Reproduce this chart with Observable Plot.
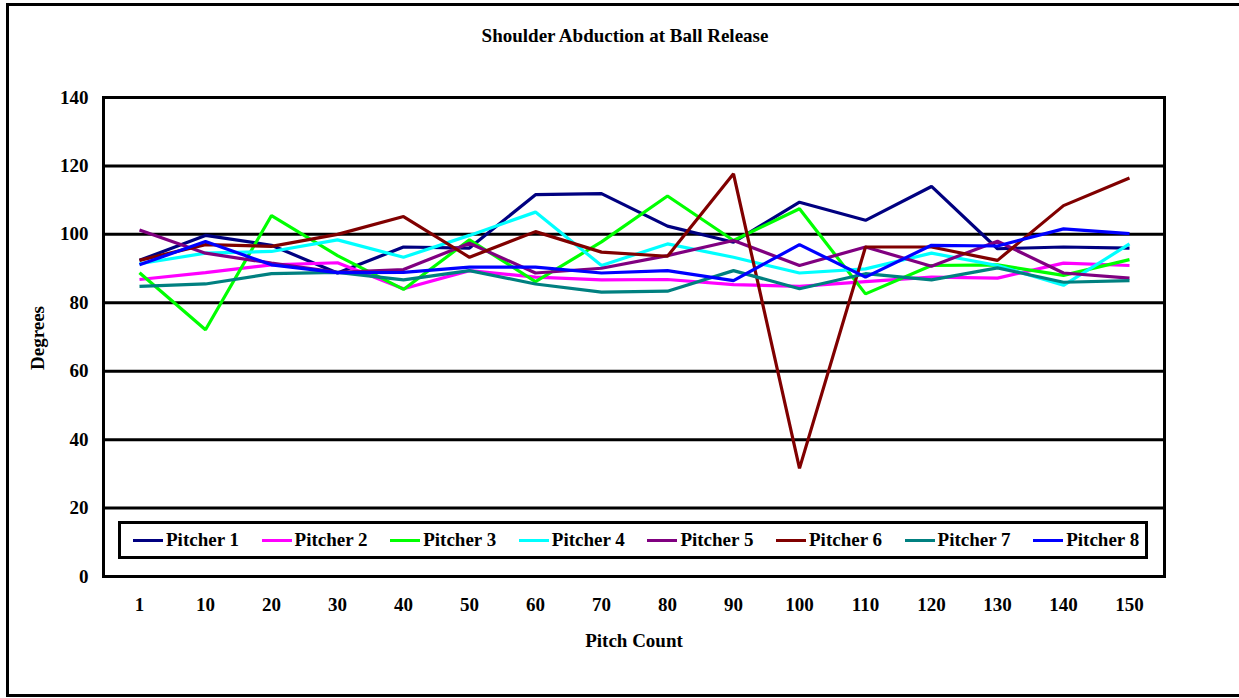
<!DOCTYPE html>
<html>
<head>
<meta charset="utf-8">
<script src="https://cdn.jsdelivr.net/npm/d3@7"></script>
<script src="https://cdn.jsdelivr.net/npm/@observablehq/plot@0.6"></script>
<style>
  body { margin: 0; background: #fff; }
  #chart {
    position: relative; width: 1239px; height: 698px; overflow: hidden;
    font-family: "Liberation Serif", "Times New Roman", serif; font-weight: bold; color: #000;
  }
  #outer { position: absolute; left: 6px; top: 3px; width: 1300px; height: 688px; border: 3px solid #000; }
  #plot { position: absolute; left: 0; top: 0; }
  .title { position: absolute; left: 0; width: 1250px; top: 36px; text-align: center; font-size: 19px; transform: translateY(-50%); }
  .ylabel { position: absolute; left: 38px; top: 338px; font-size: 19px; transform: translate(-50%, -50%) rotate(-90deg); white-space: nowrap; }
  .xlabel { position: absolute; left: 634px; top: 641px; font-size: 19px; transform: translate(-50%, -50%); white-space: nowrap; }
  #legend { position: absolute; left: 118px; top: 521px; width: 1024px; height: 32px; border: 3px solid #000; background: #fff; }
  .entry { position: absolute; top: 0; height: 32px; display: flex; align-items: center; font-size: 19px; white-space: nowrap; }
  .swatch { width: 30px; height: 3px; margin-right: 3px; }
</style>
</head>
<body>
<div id="chart">
  <div id="outer"></div>
  <div id="plot"></div>
  <div class="title">Shoulder Abduction at Ball Release</div>
  <div class="ylabel">Degrees</div>
  <div class="xlabel">Pitch Count</div>
  <div id="legend"></div>
</div>
<script>
// Pitch count categories along the x axis
const pitches = ["1", "10", "20", "30", "40", "50", "60", "70", "80", "90", "100", "110", "120", "130", "140", "150"];

// Shoulder abduction (degrees) at ball release, per pitcher
const pitcher1 = [92.4, 99.7, 96.8, 88.7, 96.3, 96.0, 111.6, 111.9, 102.4, 97.7, 109.4, 104.1, 114.0, 95.8, 96.3, 96.0];
const pitcher2 = [86.8, 88.8, 91.1, 91.7, 84.1, 89.4, 87.5, 86.7, 86.8, 85.3, 84.8, 86.2, 87.5, 87.2, 91.6, 90.9];
const pitcher3 = [88.8, 72.1, 105.5, 93.8, 83.9, 98.4, 86.2, 97.8, 111.2, 98.2, 107.5, 82.6, 90.9, 91.1, 88.0, 92.6];
const pitcher4 = [91.4, 94.5, 95.0, 98.4, 93.3, 99.7, 106.5, 90.9, 97.2, 93.3, 88.7, 89.9, 94.5, 90.9, 85.1, 97.2];
const pitcher5 = [101.3, 94.5, 91.6, 88.9, 89.7, 97.4, 88.7, 90.1, 93.8, 98.2, 90.9, 96.3, 90.7, 98.0, 88.7, 87.2];
const pitcher6 = [92.4, 97.0, 96.5, 100.0, 105.2, 93.3, 100.8, 94.8, 93.6, 117.7, 31.6, 96.3, 96.3, 92.4, 108.4, 116.5];
const pitcher7 = [84.8, 85.5, 88.5, 88.9, 86.7, 89.4, 85.5, 83.1, 83.4, 89.4, 84.1, 88.5, 86.7, 90.2, 86.0, 86.5];
const pitcher8 = [91.1, 97.9, 91.1, 88.8, 88.9, 90.4, 90.4, 88.7, 89.4, 86.5, 97.0, 87.5, 96.8, 96.6, 101.6, 100.2];

const names = ["Pitcher 1", "Pitcher 2", "Pitcher 3", "Pitcher 4", "Pitcher 5", "Pitcher 6", "Pitcher 7", "Pitcher 8"];
const colors = ["#000080", "#ff00ff", "#00ff00", "#00ffff", "#800080", "#800000", "#008080", "#0000ff"];
const yTicks = [0, 20, 40, 60, 80, 100, 120, 140];

const seriesValues = [pitcher1, pitcher2, pitcher3, pitcher4, pitcher5, pitcher6, pitcher7, pitcher8];
const rows = seriesValues.flatMap((vals, s) =>
  vals.map((v, i) => ({pitcher: names[s], pitch: pitches[i], deg: v}))
);

const chart = Plot.plot({
  width: 1239,
  height: 698,
  marginTop: 97,
  marginBottom: 122,
  marginLeft: 103,
  marginRight: 75,
  style: {
    fontFamily: '"Liberation Serif", "Times New Roman", serif',
    fontSize: "19px",
    fontWeight: "bold",
    color: "#000",
    background: "transparent",
    overflow: "visible"
  },
  x: {type: "point", domain: pitches, padding: 0.48, label: null},
  y: {domain: [0, 140], label: null},
  color: {domain: names, range: colors},
  marks: [
    Plot.ruleY(yTicks.filter(d => d > 0 && d < 140), {stroke: "#000", strokeWidth: 3}),
    Plot.lineY(rows, {
      x: "pitch", y: "deg", z: "pitcher", stroke: "pitcher",
      strokeWidth: 3.2, strokeLinejoin: "miter", strokeLinecap: "butt"
    }),
    Plot.frame({stroke: "#000", strokeWidth: 3}),
    Plot.axisY({ticks: yTicks, tickSize: 0, tickPadding: 15, label: null}),
    Plot.axisX({tickSize: 0, tickPadding: 21, label: null})
  ]
});
document.getElementById("plot").appendChild(chart);

// Legend box inside the plot area
const legend = document.getElementById("legend");
names.forEach((name, i) => {
  const e = document.createElement("div");
  e.className = "entry";
  e.style.left = (12 + i * 128.6) + "px";
  const sw = document.createElement("div");
  sw.className = "swatch";
  sw.style.background = colors[i];
  const t = document.createElement("span");
  t.textContent = name;
  e.appendChild(sw);
  e.appendChild(t);
  legend.appendChild(e);
});
</script>
</body>
</html>
